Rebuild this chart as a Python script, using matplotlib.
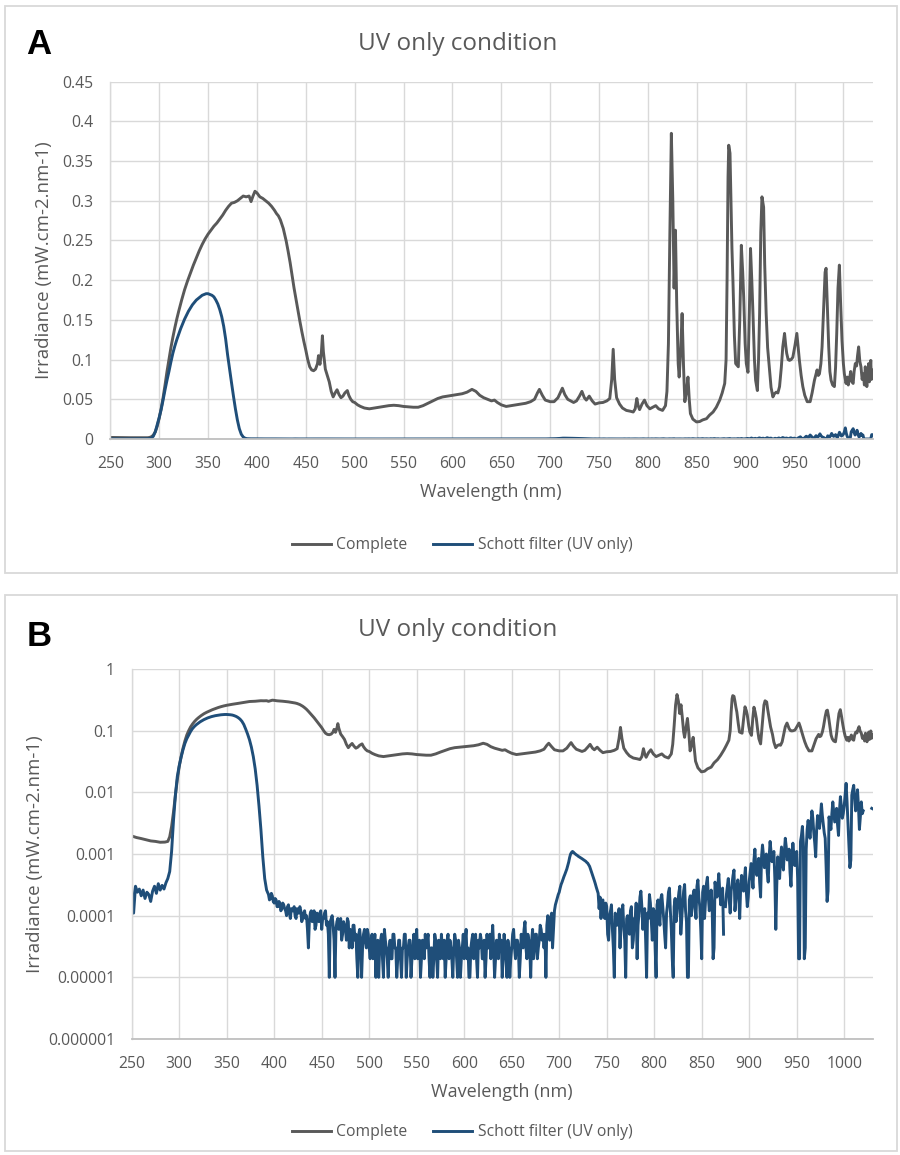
import matplotlib
matplotlib.use('Agg')
import numpy as np
import matplotlib.pyplot as plt
from matplotlib.patches import Rectangle
from matplotlib.lines import Line2D
from matplotlib.ticker import FixedLocator, FixedFormatter

plt.rcParams['font.family'] = ['Open Sans', 'DejaVu Sans']

# ---------------- data ----------------
title_text = "UV only condition"
x_label = "Wavelength (nm)"
y_label = "Irradiance (mW.cm-2.nm-1)"
series_names = ["Complete", "Schott filter (UV only)"]

complete_wl = [
    250, 255, 260, 265, 270, 275, 280, 285, 288, 290, 292, 294, 296, 298, 300, 302, 304, 306, 308, 310,
    312, 314, 316, 318, 320, 323, 326, 329, 332, 335, 338, 341, 344, 347, 350, 353, 356, 359, 362, 365,
    368, 371, 374, 377, 380, 383, 386, 389, 392, 394, 396, 398, 400, 403, 406, 409, 412, 415, 418, 420,
    422, 424, 427, 430, 432, 434, 436, 438, 440, 442, 444, 446, 448, 450, 452, 454, 456, 458, 460, 462,
    463, 464.5, 466, 467, 468, 470, 472, 474, 476, 478, 480, 482, 484, 486, 488, 490, 492.5, 494, 496, 498,
    500, 503, 506, 510, 515, 520, 525, 530, 535, 540, 545, 550, 555, 560, 565, 570, 575, 580, 585, 590,
    595, 600, 605, 610, 615, 620, 624, 628, 632, 636, 640, 643, 646, 650, 655, 660, 665, 670, 675, 680,
    684, 687, 689, 692, 695, 700, 704, 708, 711, 712.5, 715, 718, 721, 724, 727, 730, 732.5, 735, 737, 740,
    743, 746, 750, 754, 758, 761, 763, 764.5, 766, 768, 771, 774, 778, 782, 785, 787, 788.7, 790, 791.5, 794,
    796.5, 799, 802, 805, 808, 811, 815, 818, 819.5, 821, 822.5, 824, 825.5, 826.8, 828.2, 829.5, 831, 832, 833.5, 835,
    836.5, 837.8, 839.5, 841, 842.3, 843.5, 846, 849.7, 853, 856, 860, 863, 866.7, 870, 873.5, 876, 878.6, 880, 881, 882,
    882.7, 884, 885, 886, 887, 888.5, 889.8, 892.5, 894, 895.6, 897, 898, 899.5, 900.7, 902.4, 903.8, 905, 906.3, 907.5, 909,
    910.2, 912, 913.2, 914.3, 915.5, 916.7, 918.4, 919.5, 921, 922.5, 924.5, 926, 927.9, 929.5, 931.3, 933, 934.7, 936.5, 938, 939.8,
    941, 942, 943.5, 944.9, 946.5, 948.3, 950.5, 952.4, 953.8, 955, 956.8, 958.5, 960.5, 963, 966, 968, 970.4, 973.1, 974.3, 975.5,
    977, 978.2, 980, 981.3, 982.3, 983.5, 985, 986.2, 987.4, 989, 990.8, 992, 993.2, 994.5, 995.9, 997.2, 998.6, 1000, 1001, 1002.7,
    1004, 1005, 1006, 1007.5, 1008.8, 1010, 1011, 1012.2, 1013.5, 1014.5, 1015.6, 1016.8, 1018, 1019.2, 1020.4, 1021.5, 1022.4, 1023.2, 1024, 1025,
    1025.9, 1026.6, 1027.2, 1028, 1028.7, 1029.3, 1030,
]
complete_val = [
    0.00196, 0.00185, 0.00178, 0.0017, 0.00163, 0.0016, 0.00155, 0.00156, 0.0016, 0.0019, 0.0028, 0.0048, 0.009, 0.016, 0.026, 0.038, 0.052, 0.068, 0.085, 0.100,
    0.115, 0.128, 0.140, 0.151, 0.161, 0.175, 0.188, 0.199, 0.209, 0.219, 0.228, 0.237, 0.245, 0.252, 0.258, 0.263, 0.268, 0.272, 0.277, 0.282,
    0.288, 0.293, 0.297, 0.298, 0.300, 0.303, 0.306, 0.305, 0.306, 0.299, 0.306, 0.312, 0.310, 0.305, 0.303, 0.300, 0.297, 0.293, 0.288, 0.284,
    0.281, 0.276, 0.265, 0.249, 0.236, 0.222, 0.206, 0.190, 0.176, 0.162, 0.148, 0.135, 0.123, 0.112, 0.100, 0.091, 0.087, 0.086, 0.088, 0.095,
    0.105, 0.094, 0.110, 0.130, 0.110, 0.088, 0.080, 0.072, 0.060, 0.053, 0.058, 0.062, 0.056, 0.052, 0.054, 0.058, 0.061, 0.055, 0.050, 0.047,
    0.046, 0.043, 0.041, 0.039, 0.038, 0.039, 0.040, 0.041, 0.042, 0.0425, 0.042, 0.041, 0.0405, 0.040, 0.040, 0.042, 0.045, 0.048, 0.051, 0.053,
    0.054, 0.055, 0.056, 0.057, 0.059, 0.0625, 0.060, 0.055, 0.052, 0.050, 0.048, 0.049, 0.046, 0.043, 0.041, 0.042, 0.043, 0.044, 0.045, 0.047,
    0.050, 0.058, 0.0625, 0.055, 0.049, 0.047, 0.047, 0.052, 0.060, 0.064, 0.056, 0.050, 0.048, 0.046, 0.048, 0.054, 0.060, 0.052, 0.049, 0.054,
    0.048, 0.044, 0.0455, 0.046, 0.048, 0.051, 0.075, 0.113, 0.075, 0.052, 0.044, 0.039, 0.036, 0.035, 0.034, 0.038, 0.051, 0.042, 0.037, 0.044,
    0.049, 0.042, 0.038, 0.040, 0.042, 0.038, 0.036, 0.042, 0.060, 0.12, 0.26, 0.385, 0.30, 0.19, 0.263, 0.17, 0.095, 0.078, 0.11, 0.158,
    0.09, 0.047, 0.06, 0.078, 0.05, 0.032, 0.025, 0.0215, 0.022, 0.024, 0.0256, 0.030, 0.034, 0.040, 0.049, 0.058, 0.070, 0.100, 0.20, 0.33,
    0.37, 0.36, 0.30, 0.24, 0.20, 0.13, 0.095, 0.091, 0.15, 0.244, 0.21, 0.179, 0.12, 0.095, 0.084, 0.16, 0.24, 0.20, 0.158, 0.10,
    0.074, 0.061, 0.10, 0.158, 0.26, 0.305, 0.292, 0.22, 0.158, 0.115, 0.087, 0.065, 0.053, 0.057, 0.059, 0.058, 0.066, 0.09, 0.116, 0.133,
    0.118, 0.108, 0.10, 0.099, 0.10, 0.103, 0.118, 0.133, 0.115, 0.099, 0.08, 0.066, 0.055, 0.047, 0.047, 0.058, 0.074, 0.087, 0.08, 0.082,
    0.095, 0.116, 0.17, 0.21, 0.215, 0.17, 0.116, 0.085, 0.074, 0.068, 0.066, 0.09, 0.133, 0.19, 0.219, 0.17, 0.124, 0.095, 0.082, 0.070,
    0.078, 0.068, 0.074, 0.085, 0.072, 0.070, 0.085, 0.095, 0.092, 0.105, 0.116, 0.098, 0.091, 0.075, 0.082, 0.068, 0.091, 0.078, 0.066, 0.083,
    0.095, 0.072, 0.078, 0.099, 0.075, 0.087, 0.080,
]

# Schott filter, UV band: 2 nm steps from 250 to 390 nm, values in units of 1e-5 mW.cm-2.nm-1
schott_uv_start_nm = 250
schott_uv_step_nm = 2
schott_uv_e5 = [
    28, 11, 30, 24, 27, 21, 26, 19, 24, 22,              # 250-268
    17, 25, 30, 23, 33, 26, 31, 27, 34, 40,              # 270-288
    52, 110, 350, 900, 1800, 2700, 3700, 4900, 6200, 7400,          # 290-308
    8500, 9700, 10800, 11700, 12500, 13200, 13900, 14500, 15100, 15600,  # 310-328
    16100, 16500, 16900, 17200, 17500, 17700, 17900, 18100, 18200, 18300,  # 330-348
    18300, 18200, 18100, 17900, 17500, 17000, 16300, 15400, 14200, 12600,  # 350-368
    10600, 8800, 7100, 5400, 3800, 2400, 1300, 600, 250, 90,        # 370-388
    40,                                                             # 390
]
# Schott filter, 391-1030 nm in 1 nm steps, units of 1e-5 (0 = no signal)
schott_vis_start_nm = 391
schott_vis_step_nm = 1
schott_vis_e5 = [
    32, 26, 24, 22, 18, 19, 23, 21, 17, 16, 19, 18, 14, 14, 17, 16, 12, 13, 16, 15,          # 391-410
    13, 12, 10, 14, 15, 11, 9, 13, 12, 12, 14, 10, 9, 13, 11, 11, 14, 12, 8, 9,              # 411-430
    11, 12, 9, 10, 6, 3, 8, 11, 12, 8, 10, 12, 6, 7, 11, 10, 8, 11, 12, 6,                   # 431-450
    9, 9, 11, 12, 7, 8, 5, 1, 8, 9, 10, 7, 4, 1, 6, 8, 9, 6, 7, 9,                           # 451-470
    4, 5, 8, 7, 6, 4, 9, 8, 3, 6, 5, 3, 7, 7, 4, 5, 2, 1, 5, 6,                              # 471-490
    4, 1, 3, 5, 6, 4, 3, 6, 5, 3, 2, 4, 5, 2, 3, 5, 1, 3, 4, 1,                              # 491-510
    3, 4, 5, 2, 1, 6, 4, 3, 2, 1, 3, 4, 2, 2, 5, 5, 3, 3, 1, 2,                              # 511-530
    4, 4, 2, 1, 3, 3, 5, 5, 1, 2, 3, 4, 4, 1, 2, 3, 5, 2, 4, 6,                              # 531-550
    2, 3, 4, 1, 2, 4, 3, 2, 5, 3, 4, 5, 2, 1, 3, 3, 1, 2, 5, 4,                              # 551-570
    2, 1, 4, 3, 2, 5, 3, 2, 4, 1, 2, 4, 5, 2, 4, 3, 2, 1, 3, 5,                              # 571-590
    4, 2, 1, 4, 3, 1, 2, 3, 5, 2, 4, 6, 2, 3, 1, 1, 3, 4, 5, 2,                              # 591-610
    3, 5, 2, 1, 4, 3, 5, 4, 2, 2, 4, 1, 2, 5, 3, 3, 5, 2, 4, 7,                              # 611-630
    3, 1, 2, 4, 3, 2, 5, 3, 4, 1, 2, 5, 3, 2, 1, 4, 3, 1, 2, 3,                              # 631-650
    5, 6, 3, 2, 4, 4, 3, 1, 2, 5, 4, 3, 6, 8, 3, 2, 5, 4, 3, 1,                              # 651-670
    4, 6, 2, 3, 5, 5, 2, 3, 4, 7, 6, 4, 5, 3, 5, 1, 7, 10, 6, 4,                             # 671-690
    9, 11, 3, 6, 12, 15, 17, 19, 22, 24, 28, 32, 35, 39, 43, 47, 52, 57, 65, 74,             # 691-710
    88, 100, 106, 110, 107, 103, 100, 97, 95, 92, 90, 88, 86, 84, 82, 80, 78, 76, 73, 71,    # 711-730
    67, 63, 57, 51, 46, 42, 37, 33, 29, 26, 23, 13, 20, 9, 17, 18, 11, 9, 16, 14,            # 731-750
    5, 4, 10, 12, 15, 6, 3, 1, 11, 10, 7, 9, 13, 3, 8, 12, 15, 6, 4, 1,                      # 751-770
    9, 10, 6, 5, 12, 14, 3, 4, 9, 8, 16, 2, 7, 11, 20, 25, 14, 6, 10, 13,                    # 771-790
    4, 1, 11, 9, 22, 16, 8, 4, 13, 12, 3, 1, 15, 18, 10, 7, 19, 22, 14, 9,                   # 791-810
    5, 3, 11, 15, 24, 28, 12, 6, 2, 1, 14, 19, 8, 11, 17, 24, 30, 5, 9, 16,                  # 811-830
    25, 32, 12, 8, 1, 1, 18, 21, 10, 13, 22, 26, 15, 9, 30, 38, 20, 14, 6, 2,                # 831-850
    24, 30, 9, 17, 33, 42, 20, 12, 18, 26, 14, 2, 3, 35, 28, 20, 31, 48, 25, 15,             # 851-870
    20, 28, 5, 0, 14, 22, 30, 40, 18, 11, 25, 33, 45, 55, 12, 18, 30, 38, 22, 9,             # 871-890
    28, 45, 35, 25, 40, 60, 24, 14, 20, 36, 50, 70, 45, 28, 80, 120, 60, 45, 55, 85,         # 891-910
    35, 20, 90, 140, 95, 60, 75, 100, 50, 35, 90, 160, 110, 75, 95, 110, 40, 6, 30, 90,      # 911-930
    60, 40, 85, 130, 70, 55, 110, 180, 130, 80, 95, 120, 50, 30, 90, 150, 100, 65, 80, 110,  # 931-950
    40, 2, 2, 160, 200, 280, 150, 2, 3, 120, 250, 350, 260, 180, 300, 500, 380, 220, 150, 90,        # 951-970
    250, 420, 350, 260, 400, 650, 420, 300, 220, 180, 60, 17, 25, 400, 330, 250, 450, 700, 480, 330, # 971-990
    420, 550, 300, 200, 500, 850, 600, 380, 450, 600, 900, 1400, 700, 300, 120, 60, 80, 900, 1100, 1300,  # 991-1010
    800, 500, 700, 1100, 600, 250, 400, 700, 450, 500, 0, 0, 0, 0, 0, 0, 0, 0, 550, 540,     # 1011-1030
]

x_ticks = [250, 300, 350, 400, 450, 500, 550, 600, 650, 700, 750, 800, 850, 900, 950, 1000]
lin_ticks = [0, 0.05, 0.1, 0.15, 0.2, 0.25, 0.3, 0.35, 0.4, 0.45]
lin_labels = ["0", "0.05", "0.1", "0.15", "0.2", "0.25", "0.3", "0.35", "0.4", "0.45"]
log_ticks = [1e-6, 1e-5, 1e-4, 1e-3, 1e-2, 1e-1, 1]
log_labels = ["0.000001", "0.00001", "0.0001", "0.001", "0.01", "0.1", "1"]

# ---------------- derived ----------------
c_wl = np.array(complete_wl, dtype=float)
c_val = np.array(complete_val, dtype=float)
uv = np.array(schott_uv_e5, dtype=float) * 1e-5
vis = np.array(schott_vis_e5, dtype=float) * 1e-5
s_wl = np.concatenate([schott_uv_start_nm + schott_uv_step_nm * np.arange(len(uv)),
                       schott_vis_start_nm + schott_vis_step_nm * np.arange(len(vis))])
s_val = np.concatenate([uv, vis])
s_val_log = np.where(s_val > 0, s_val, np.nan)

GRAY = '#595959'
BLUE = '#1F4E79'
GRID = '#d9d9d9'
TXT = '#595959'
LW = 2.1

W, H = 900, 1155
fig = plt.figure(figsize=(W / 100, H / 100), dpi=100)

def fx(px):
    return px / W

def fy(py):
    return 1 - py / H

# panel boxes
for (x0, y0, x1, y1) in [(5, 6, 897, 573), (5, 595, 897, 1151)]:
    fig.patches.append(Rectangle((fx(x0), fy(y1)), fx(x1) - fx(x0), fy(y0) - fy(y1),
                                 transform=fig.transFigure, fill=False,
                                 edgecolor='#d9d9d9', linewidth=1.3))

def style_axes(ax):
    ax.set_xlim(250, 1030)
    ax.xaxis.set_major_locator(FixedLocator(x_ticks))
    ax.grid(True, which='major', color=GRID, linewidth=1.0)
    ax.set_axisbelow(True)
    for s in ['top', 'right']:
        ax.spines[s].set_visible(False)
    ax.spines['left'].set_color(GRID)
    ax.spines['left'].set_linewidth(1.0)
    ax.spines['bottom'].set_color('#bfbfbf')
    ax.spines['bottom'].set_linewidth(1.3)
    ax.tick_params(axis='both', length=0, colors=TXT, labelsize=11.3)
    ax.tick_params(axis='x', pad=12)
    ax.tick_params(axis='y', pad=12)

# ---- Panel A ----
axA = fig.add_axes([fx(110.3), fy(439), fx(872.7) - fx(110.3), fy(81.7) - fy(439)])
axA.plot(c_wl, c_val, color=GRAY, lw=LW, solid_joinstyle='round')
axA.plot(s_wl, s_val, color=BLUE, lw=LW, solid_joinstyle='round')
axA.set_ylim(0, 0.45)
axA.yaxis.set_major_locator(FixedLocator(lin_ticks))
axA.yaxis.set_major_formatter(FixedFormatter(lin_labels))
style_axes(axA)

# ---- Panel B ----
axB = fig.add_axes([fx(131.7), fy(1039), fx(872.7) - fx(131.7), fy(669) - fy(1039)])
axB.plot(c_wl, c_val, color=GRAY, lw=LW, solid_joinstyle='round')
axB.plot(s_wl, s_val_log, color=BLUE, lw=LW, solid_joinstyle='round')
axB.set_yscale('log')
axB.set_ylim(1e-6, 1)
axB.yaxis.set_major_locator(FixedLocator(log_ticks))
axB.yaxis.set_major_formatter(FixedFormatter(log_labels))
axB.yaxis.set_minor_locator(FixedLocator([]))
style_axes(axB)

# ---- texts ----
for letter, ly, ty, xl_x, xl_y, yl_x, yl_y, leg_y in [
        ("A", 45, 49.5, 491, 492, 44, 260, 545),
        ("B", 636, 636, 502, 1092, 35, 854, 1132)]:
    fig.text(fx(39), fy(ly), letter, fontsize=25, fontweight='bold', color='black',
             family=['Liberation Sans', 'DejaVu Sans'], ha='center', va='center')
    fig.text(fx(458), fy(ty), title_text, fontsize=17.5, color=TXT, ha='center', va='baseline')
    fig.text(fx(xl_x), fy(xl_y), x_label, fontsize=13, color=TXT, ha='center', va='center')
    fig.text(fx(yl_x), fy(yl_y), y_label, fontsize=13.5, color=TXT, ha='center', va='center',
             rotation=90)
    handles = [Line2D([], [], color=GRAY, lw=LW), Line2D([], [], color=BLUE, lw=LW)]
    fig.legend(handles, series_names, loc='center', bbox_to_anchor=(fx(462), fy(leg_y)),
               ncol=2, frameon=False, fontsize=11.3, labelcolor=TXT,
               handlelength=2.5, handletextpad=0.35, columnspacing=1.6)

fig.savefig('out.png', dpi=100)
